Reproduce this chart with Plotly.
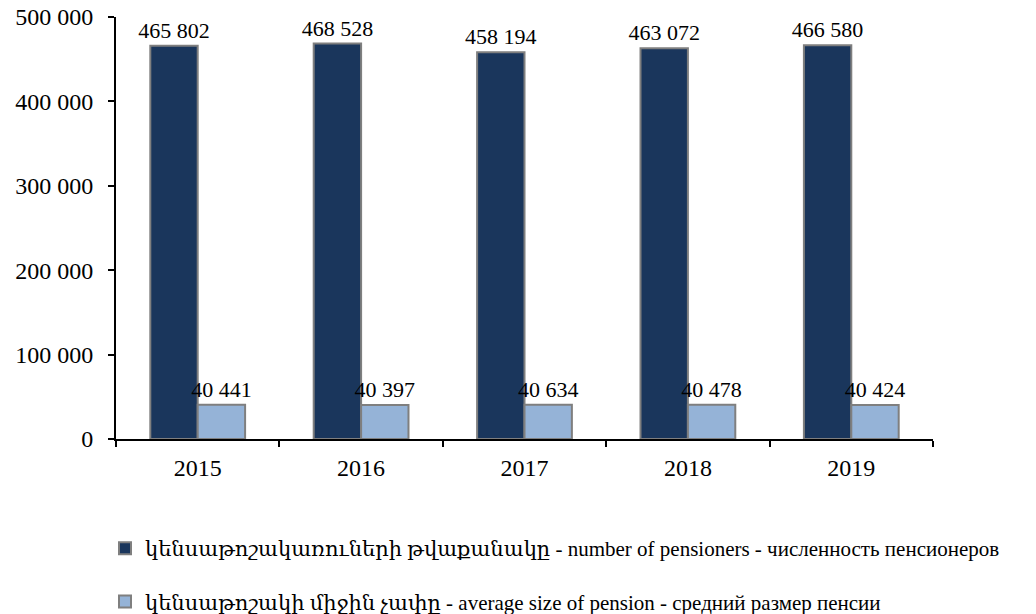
import plotly.graph_objects as go

years = ["2015", "2016", "2017", "2018", "2019"]
pensioners = [465802, 468528, 458194, 463072, 466580]
avg_pension = [40441, 40397, 40634, 40478, 40424]
name_pensioners = "կենսաթոշակառուների թվաքանակը - number of pensioners - численность пенсионеров"
name_avg = "կենսաթոշակի միջին չափը - average size of pension - средний размер пенсии"

FONT = "Liberation Serif, DejaVu Serif, serif"

fig = go.Figure()
fig.add_trace(go.Bar(
    x=years, y=pensioners, name=name_pensioners, legendgroup="a",
    marker=dict(color="#1A365C", line=dict(color="#7F7F7F", width=2)),
    texttemplate="%{y:,d}", textposition="outside", cliponaxis=False,
    constraintext="none",
    textfont=dict(family=FONT, size=22, color="black"),
))
fig.add_trace(go.Bar(
    x=years, y=avg_pension, name=name_avg, legendgroup="b",
    marker=dict(color="#95B3D7", line=dict(color="#7F7F7F", width=2)),
    texttemplate="%{y:,d}", textposition="outside", cliponaxis=False,
    constraintext="none",
    textfont=dict(family=FONT, size=22, color="black"),
))

fig.update_layout(
    width=1036, height=614,
    margin=dict(l=116, r=103, t=17, b=175, autoexpand=False),
    paper_bgcolor="white", plot_bgcolor="white",
    separators=". ",
    barmode="group", bargap=0.42, bargroupgap=0,
    font=dict(family=FONT, size=21, color="black"),
    showlegend=True,
    legend=dict(
        orientation="v", xref="container", yref="container",
        x=105 / 1036, xanchor="left", y=(614 - 528) / 614, yanchor="top",
        font=dict(family=FONT, size=21, color="black"),
        tracegroupgap=23, traceorder="grouped",
        bgcolor="rgba(0,0,0,0)",
    ),
)
fig.update_yaxes(
    range=[0, 500000], tickvals=[0, 100000, 200000, 300000, 400000, 500000],
    tickformat=",d", showgrid=False, zeroline=False,
    showline=True, linecolor="black", linewidth=2,
    ticks="outside", ticklen=6, tickwidth=2, tickcolor="black",
    tickfont=dict(family=FONT, size=24, color="black"), ticklabelstandoff=10,
    automargin=False,
)
fig.update_xaxes(
    showgrid=False, showline=True, linecolor="black", linewidth=2,
    ticks="outside", tickson="boundaries", ticklen=6, tickwidth=2, tickcolor="black",
    tickfont=dict(family=FONT, size=24, color="black"), ticklabelstandoff=6,
    automargin=False,
)

fig.write_html("out.html", config={"displayModeBar": False},
               post_script="document.body.style.margin='0';")
